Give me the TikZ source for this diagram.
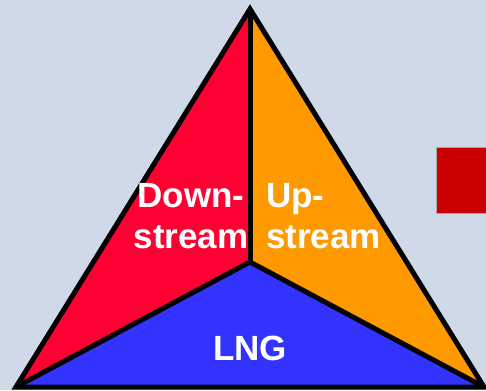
\documentclass[tikz,border=0pt]{standalone}
\usepackage{fontspec}
\setmainfont{Liberation Sans}
\definecolor{bgblue}{HTML}{D0D9E8}
\definecolor{downred}{HTML}{FF0033}
\definecolor{uporange}{HTML}{FF9900}
\definecolor{lngblue}{HTML}{3333FF}
\definecolor{boxred}{HTML}{CC0000}
\begin{document}
\begin{tikzpicture}[x=1pt,y=1pt,
                    edge/.style = {draw=black,line width=5pt,line join=miter},
                    label/.style = {text=white,font=\fontsize{35}{41}\selectfont\bfseries,inner sep=0pt}]
    % background
    \fill[bgblue] (0,0) rectangle (486,390);
    \useasboundingbox (0,0) rectangle (486,390);

    \coordinate (apex) at (250,381);
    \coordinate (left) at (16,3);
    \coordinate (right) at (484,3);
    \coordinate (centre) at (250,128);

    % the three parts
    \fill[downred] (apex) -- (centre) -- (left) -- cycle;
    \fill[uporange] (apex) -- (right) -- (centre) -- cycle;
    \fill[lngblue] (centre) -- (right) -- (left) -- cycle;

    \draw[edge] (centre) -- (apex);
    \draw[edge] (centre) -- (left);
    \draw[edge] (centre) -- (right);
    \draw[edge] (apex) -- (right) -- (left) -- cycle;

    \node[label,align=center] (down) at (191,174) {Down-\\stream};
    \node[label,align=left,anchor=west] (up) at (266,174) {Up-\\stream};
    \node[label] (lng) at (250,42) {LNG};

    % box at the edge
    \filldraw[fill=boxred,draw=gray!70,line width=0.6pt] (436,243) rectangle (490,177);
\end{tikzpicture}
\end{document}
